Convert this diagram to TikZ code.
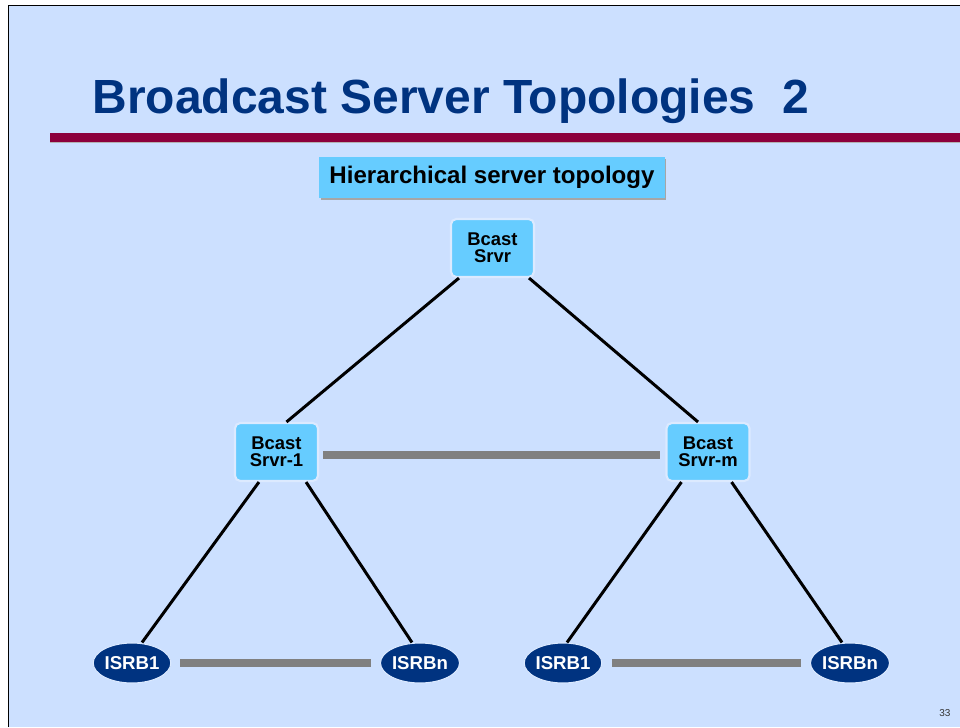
\documentclass[tikz,border=0pt]{standalone}
\usepackage{fontspec}
\setmainfont{Liberation Sans}
\usepackage{tikz}
\usetikzlibrary{positioning,calc,shapes.geometric,shadows}

\definecolor{slidebg}{RGB}{204,224,255}
\definecolor{titleblue}{RGB}{0,51,128}
\definecolor{rulered}{RGB}{140,0,60}
\definecolor{boxblue}{RGB}{102,204,255}
\definecolor{edgeblue}{RGB}{220,234,255}
\definecolor{isrbblue}{RGB}{0,51,128}
\definecolor{linkgray}{RGB}{128,128,128}

\begin{document}
\begin{tikzpicture}[x=0.02cm,y=-0.02cm,thick,
  srvr node/.style={rectangle,rounded corners=3pt,fill=boxblue,draw=edgeblue,
    line width=1.2pt,minimum width=1.66cm,minimum height=1.16cm,inner sep=0pt,
    align=center,font=\fontsize{10.5pt}{9.7pt}\selectfont\bfseries},
  isrb node/.style={ellipse,fill=isrbblue,draw=edgeblue,line width=0.6pt,
    minimum width=1.52cm,minimum height=0.8cm,inner sep=0pt,text=white,
    font=\fontsize{10.6pt}{11pt}\selectfont\bfseries},
  tree link/.style={line width=1.7pt,black},
  peer link/.style={line width=4.6pt,linkgray}]
    % slide background and frame
    \useasboundingbox (0,0) rectangle (960,727);
    \fill[white] (0,0) rectangle (960,727);
    \fill[slidebg] (9,6) rectangle (960,727);
    \draw[line width=1.1pt] (8.5,727) -- (8.5,5.5) -- (960,5.5);
    \fill[rulered] (50,133) rectangle (960,141.5);
    \draw[gray!60,line width=0.6pt] (50,142.5) -- (960,142.5);

    \node[anchor=base west,text=titleblue,font=\fontsize{27.3pt}{30pt}\selectfont\bfseries]
      (title) at (86,113) {Broadcast Server Topologies\ \ 2};
    \node[rectangle,fill=boxblue,minimum width=6.92cm,minimum height=0.82cm,
      drop shadow={shadow xshift=0.03cm,shadow yshift=-0.03cm,fill=gray!70,opacity=1},
      font=\fontsize{13.7pt}{14pt}\selectfont\bfseries]
      (topic) at (492,177.5) {Hierarchical server topology};

    \node[srvr node](top) at (492.5,248) {Bcast\\Srvr};
    \node[srvr node](s1) at (276.5,452) {Bcast\\Srvr-1};
    \node[srvr node](sm) at (708,452) {Bcast\\Srvr-m};
    \node[isrb node](a1) at (132,663) {ISRB1};
    \node[isrb node](an) at (420,663) {ISRBn};
    \node[isrb node](b1) at (563,663) {ISRB1};
    \node[isrb node](bn) at (850,663) {ISRBn};
    \node[text=black!80,font=\fontsize{5.7pt}{6pt}\selectfont,anchor=base east]
      (page) at (957,716) {33};

    \draw[tree link] ($(top.south west)+(9,0)$) -- ($(s1.north)+(10,0)$);
    \draw[tree link] ($(top.south east)+(-6,0)$) -- ($(sm.north)+(-10,0)$);
    \draw[tree link] ($(s1.south west)+(25,0)$) -- ($(a1.north)+(10,0)$);
    \draw[tree link] ($(s1.south east)+(-13,0)$) -- ($(an.north)+(-8,0)$);
    \draw[tree link] ($(sm.south west)+(16,0)$) -- ($(b1.north)+(4,0)$);
    \draw[tree link] ($(sm.south east)+(-19,0)$) -- ($(bn.north)+(-8,0)$);

    \draw[peer link] ($(s1.east)+(4,3)$) -- ($(sm.west)+(-5,3)$);
    \draw[peer link] ($(a1.east)+(9,0)$) -- ($(an.west)+(-9,0)$);
    \draw[peer link] ($(b1.east)+(10,0)$) -- ($(bn.west)+(-9,0)$);
\end{tikzpicture}
\end{document}
